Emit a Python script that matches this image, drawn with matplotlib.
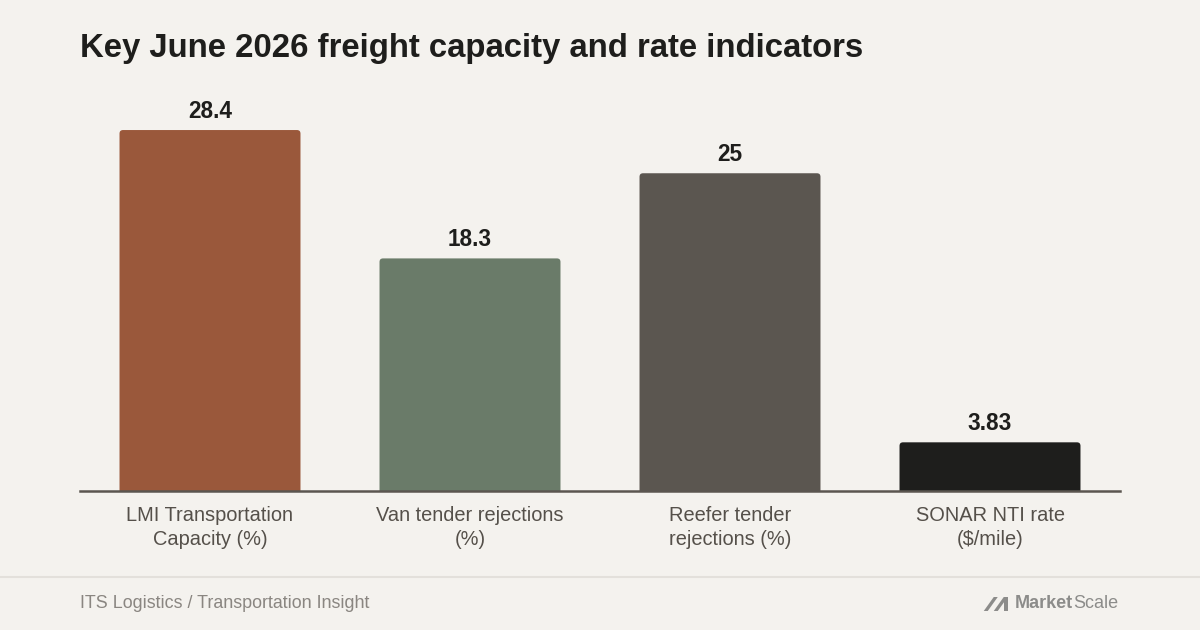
import matplotlib
matplotlib.use("Agg")
import matplotlib.pyplot as plt
from matplotlib.patches import FancyBboxPatch, Polygon
from matplotlib.lines import Line2D

# Data
categories = ["LMI Transportation\nCapacity (%)", "Van tender rejections\n(%)",
              "Reefer tender\nrejections (%)", "SONAR NTI rate\n($/mile)"]
values = [28.4, 18.3, 25, 3.83]
value_labels = ["28.4", "18.3", "25", "3.83"]
bar_colors = ["#9A583B", "#6A7B69", "#5B5650", "#1E1E1C"]

BG = "#F4F2EE"
W, H = 1200, 630

plt.rcParams["font.family"] = ["Liberation Sans", "DejaVu Sans"]

fig = plt.figure(figsize=(12, 6.3), dpi=100, facecolor=BG)

# axes placed in pixel terms: x 80..1120, baseline y=491, top y=90
ax = fig.add_axes([80 / W, (H - 491) / H, 1040 / W, (491 - 90) / H])
ax.set_facecolor(BG)
ymax = 31.55
ax.set_xlim(-0.5, len(values) - 0.5)
ax.set_ylim(0, ymax)

px_x = 1040 / len(values)         # pixels per x unit
px_y = (491 - 90) / ymax          # pixels per y unit
bw = 0.696
r = 3.5 / px_x

for i, (v, c, lab) in enumerate(zip(values, bar_colors, value_labels)):
    patch = FancyBboxPatch((i - bw / 2, -1), bw, v + 1,
                           boxstyle=f"round,pad=0,rounding_size={r}",
                           mutation_aspect=px_x / px_y,
                           fc=c, ec="none", zorder=2)
    ax.add_patch(patch)
    ax.annotate(lab, (i, v), xytext=(0, 5), textcoords="offset points",
                ha="center", va="bottom", fontsize=16.3, fontweight="bold",
                color="#1E1E1C")

for s in ["top", "right", "left"]:
    ax.spines[s].set_visible(False)
ax.spines["bottom"].set_color("#5B5650")
ax.spines["bottom"].set_linewidth(1.8)
ax.spines["bottom"].set_zorder(3)
ax.set_yticks([])
ax.set_xticks(range(len(categories)))
ax.set_xticklabels(categories, fontsize=14.4, color="#55504A", linespacing=1.35)
ax.tick_params(axis="x", length=0, pad=10.5)

# title
fig.text(80 / W, 1 - 48 / H, "Key June 2026 freight capacity and rate indicators",
         fontsize=23.7, fontweight="bold", color="#1E1E1C", va="center", ha="left")

# footer
fig.add_artist(Line2D([0, 1], [1 - 577 / H] * 2, color="#E3E0DB", lw=1.5,
                      transform=fig.transFigure))
fig.text(80 / W, 1 - 603 / H, "ITS Logistics / Transportation Insight",
         fontsize=12.9, color="#8A8681", va="center", ha="left")

# logo
logo_c = "#8C8C8A"
t_scale = fig.text(1118 / W, 1 - 604 / H, "Scale", fontsize=13, color=logo_c,
                   va="center", ha="right")
fig.canvas.draw()
bb = t_scale.get_window_extent()
t_mark = fig.text(bb.x0 / W, 1 - 604 / H, "Market", fontsize=13, fontweight="bold",
                  color=logo_c, va="center", ha="right")
fig.canvas.draw()
bb2 = t_mark.get_window_extent()
x_end = bb2.x0 - 3
y0, y1 = H - 611, H - 597
# stylised "M" mark: two slanted strokes plus an upright
shapes = [
    [(x_end - 28, y0), (x_end - 24, y0), (x_end - 14, y1), (x_end - 18, y1)],
    [(x_end - 18, y0), (x_end - 14, y0), (x_end - 4, y1), (x_end - 8, y1)],
    [(x_end - 8, y1), (x_end - 4, y1), (x_end - 4, y0), (x_end - 8, y0)],
]
for pts in shapes:
    pts = [(px / W, py / H) for px, py in pts]
    fig.add_artist(Polygon(pts, closed=True, fc=logo_c, ec="none",
                           transform=fig.transFigure))

fig.savefig("out.png", dpi=100, facecolor=BG)
